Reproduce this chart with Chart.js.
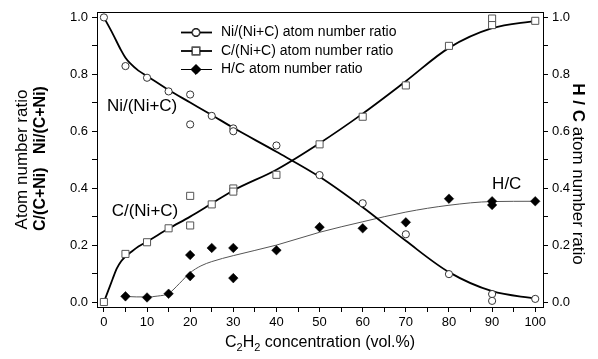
<!DOCTYPE html>
<html>
<head>
<meta charset="utf-8">
<script src="https://cdn.jsdelivr.net/npm/chart.js@4.4.0/dist/chart.umd.min.js"></script>
<style>
  html, body { margin: 0; padding: 0; background: #fff; }
  #wrap { width: 598px; height: 359px; position: relative; }
</style>
</head>
<body>
<div id="wrap"><canvas id="chart"></canvas></div>
<script>
var fontFamily = '"Liberation Sans", Arial, Helvetica, sans-serif'

// measured atom number ratios vs C2H2 concentration (vol.%)
var niConc = [0, 5, 10, 15, 20, 20, 25, 30, 30, 40, 50, 60, 70, 80, 90, 90, 100]
var niRatio = [1.0, 0.829, 0.788, 0.740, 0.729, 0.624, 0.654, 0.610, 0.600, 0.550, 0.446, 0.347, 0.238, 0.098, 0.028, 0.004, 0.011]

var cConc = [0, 5, 10, 15, 20, 20, 25, 30, 30, 40, 50, 60, 70, 80, 90, 90, 100]
var cRatio = [0.0, 0.169, 0.210, 0.259, 0.373, 0.269, 0.343, 0.399, 0.388, 0.447, 0.554, 0.651, 0.761, 0.900, 0.996, 0.973, 0.988]

var hcConc = [5, 10, 15, 20, 20, 25, 30, 30, 40, 50, 60, 70, 80, 90, 90, 100]
var hcRatio = [0.020, 0.016, 0.029, 0.165, 0.091, 0.190, 0.190, 0.084, 0.182, 0.263, 0.259, 0.280, 0.363, 0.354, 0.341, 0.354]

// fitted trend curves
var niFitX = [0, 2, 4, 5, 6, 8, 10, 15, 20, 25, 30, 40, 50, 60, 70, 80, 90, 100]
var niFitY = [1.0, 0.944, 0.884, 0.858, 0.840, 0.813, 0.794, 0.745, 0.701, 0.657, 0.612, 0.528, 0.440, 0.333, 0.215, 0.105, 0.038, 0.012]

var cFitX = [0, 1, 2, 3, 4, 5, 6, 8, 10, 15, 20, 25, 30, 40, 50, 60, 70, 80, 90, 100]
var cFitY = [0.0, 0.040, 0.080, 0.118, 0.143, 0.160, 0.172, 0.195, 0.212, 0.258, 0.300, 0.346, 0.392, 0.465, 0.558, 0.662, 0.776, 0.893, 0.962, 0.988]

var hcFitX = [5, 7.5, 10, 12.5, 15, 17.5, 20, 22.5, 25, 30, 40, 50, 60, 70, 80, 90, 100]
var hcFitY = [0.020, 0.018, 0.018, 0.021, 0.030, 0.065, 0.103, 0.127, 0.142, 0.163, 0.200, 0.245, 0.282, 0.316, 0.340, 0.353, 0.354]

var xTicks = [0, 10, 20, 30, 40, 50, 60, 70, 80, 90, 100]

function pts(xs, ys) {
    return xs.map(function (x, i) { return { x: x, y: ys[i] } })
}

var markerStyles = [
    { label: 'Ni/(Ni+C) atom number ratio', pointStyle: 'circle', radius: 3.6, bg: '#fff', border: '#333' },
    { label: 'C/(Ni+C) atom number ratio', pointStyle: 'rect', radius: 5, bg: '#fff', border: '#555' },
    { label: 'H/C atom number ratio', pointStyle: 'rectRot', radius: 4.8, bg: '#000', border: '#000' },
]

const data = {
    datasets: [
        {
            label: markerStyles[0].label, data: pts(niConc, niRatio), order: 0,
            pointStyle: 'circle', pointRadius: 3.6, pointBackgroundColor: '#fff',
            pointBorderColor: '#333', pointBorderWidth: 1, showLine: false,
        },
        {
            label: markerStyles[1].label, data: pts(cConc, cRatio), order: 0,
            pointStyle: 'rect', pointRadius: 5, pointBackgroundColor: '#fff',
            pointBorderColor: '#555', pointBorderWidth: 1, showLine: false,
        },
        {
            label: markerStyles[2].label, data: pts(hcConc, hcRatio), order: 0, yAxisID: 'y2',
            pointStyle: 'rectRot', pointRadius: 4.8, pointBackgroundColor: '#000',
            pointBorderColor: '#000', pointBorderWidth: 0.5, showLine: false,
        },
        {
            label: 'ni fit', data: pts(niFitX, niFitY), order: 1, showLine: true,
            borderColor: '#000', borderWidth: 1.8, pointRadius: 0, cubicInterpolationMode: 'monotone',
        },
        {
            label: 'c fit', data: pts(cFitX, cFitY), order: 1, showLine: true,
            borderColor: '#000', borderWidth: 1.8, pointRadius: 0, cubicInterpolationMode: 'monotone',
        },
        {
            label: 'hc fit', data: pts(hcFitX, hcFitY), order: 1, showLine: true, yAxisID: 'y2',
            borderColor: '#555', borderWidth: 1, pointRadius: 0, cubicInterpolationMode: 'monotone',
        },
    ]
}

// every other tick carries a label, the rest are minor ticks
function yLabel(v) {
    var n = Math.round(v * 10)
    return n % 2 === 0 ? (n / 10).toFixed(1) : ''
}

var axisGrid = {
    drawOnChartArea: false,
    drawTicks: true,
    tickLength: 5,
    tickColor: '#000',
    tickWidth: 1,
}

const decorations = {
    id: 'decorations',
    afterDraw(chart) {
        const ctx = chart.ctx
        const a = chart.chartArea
        const ys = chart.scales.y
        const xs = chart.scales.x
        ctx.save()

        // top frame line
        ctx.strokeStyle = '#000'
        ctx.lineWidth = 1
        ctx.beginPath()
        ctx.moveTo(a.left, Math.round(a.top) + 0.5)
        ctx.lineTo(a.right, Math.round(a.top) + 0.5)
        ctx.stroke()

        // legend
        var rows = [32.5, 51, 69.5]
        ctx.font = '14px ' + fontFamily
        ctx.textBaseline = 'middle'
        ctx.textAlign = 'left'
        markerStyles.forEach(function (m, i) {
            var y = rows[i]
            ctx.strokeStyle = '#000'
            ctx.lineWidth = i === 2 ? 1 : 1.8
            ctx.beginPath()
            ctx.moveTo(181, y)
            ctx.lineTo(212, y)
            ctx.stroke()
            Chart.helpers.drawPoint(ctx, {
                pointStyle: m.pointStyle, radius: m.radius, rotation: 0,
                borderWidth: 1,
            }, 196, y)
            ctx.fillStyle = m.bg
            ctx.fill()
            ctx.strokeStyle = m.border
            ctx.lineWidth = 1
            ctx.stroke()
            ctx.fillStyle = '#000'
            ctx.fillText(m.label, 221, y)
        })

        // curve labels
        ctx.font = '17px ' + fontFamily
        ctx.fillText('Ni/(Ni+C)', xs.getPixelForValue(0.7), ys.getPixelForValue(0.688))
        ctx.fillText('C/(Ni+C)', xs.getPixelForValue(1.8), ys.getPixelForValue(0.318))
        ctx.fillText('H/C', xs.getPixelForValue(90), ys.getPixelForValue(0.414))

        // x axis title with subscripts
        var big = '16px ' + fontFamily, small = '11px ' + fontFamily
        var parts = [['C', big, 0], ['2', small, 4], ['H', big, 0], ['2', small, 4], [' concentration (vol.%)', big, 0]]
        var total = 0
        parts.forEach(function (p) { ctx.font = p[1]; total += ctx.measureText(p[0]).width })
        var x = (a.left + a.right) / 2 - total / 2
        ctx.textBaseline = 'alphabetic'
        parts.forEach(function (p) {
            ctx.font = p[1]
            ctx.fillText(p[0], x, 347 + p[2])
            x += ctx.measureText(p[0]).width
        })

        // left axis titles
        var cy = (a.top + a.bottom) / 2
        ctx.save()
        ctx.translate(22, cy)
        ctx.rotate(-Math.PI / 2)
        ctx.textAlign = 'center'
        ctx.textBaseline = 'middle'
        ctx.font = '17px ' + fontFamily
        ctx.fillText('Atom number ratio', 0, 0)
        ctx.restore()

        ctx.save()
        ctx.translate(41, cy - 1)
        ctx.rotate(-Math.PI / 2)
        ctx.textAlign = 'center'
        ctx.textBaseline = 'middle'
        ctx.font = 'bold 16px ' + fontFamily
        ctx.fillText('C/(C+Ni)   Ni/(C+Ni)', 0, 0)
        ctx.restore()

        // right axis title, bold "H / C" followed by plain text
        ctx.save()
        ctx.translate(578, 174)
        ctx.rotate(Math.PI / 2)
        ctx.textBaseline = 'middle'
        ctx.textAlign = 'left'
        var boldPart = 'H / C', plainPart = ' atom number ratio'
        ctx.font = 'bold 17px ' + fontFamily
        var w1 = ctx.measureText(boldPart).width
        ctx.font = '17px ' + fontFamily
        var w2 = ctx.measureText(plainPart).width
        var sx = -(w1 + w2) / 2
        ctx.font = 'bold 17px ' + fontFamily
        ctx.fillText(boldPart, sx, 0)
        ctx.font = '17px ' + fontFamily
        ctx.fillText(plainPart, sx + w1, 0)
        ctx.restore()

        ctx.restore()
    }
}

const options = {
    animation: false,
    responsive: true,
    maintainAspectRatio: false,
    layout: {
        padding: { top: 12, left: 0, right: 0, bottom: 0 },
        autoPadding: false,
    },
    scales: {
        x: {
            type: 'linear',
            min: -1.6,
            max: 101.8,
            grid: axisGrid,
            border: { display: true, color: '#000', width: 1 },
            ticks: {
                stepSize: 5,
                includeBounds: false,
                maxRotation: 0,
                autoSkip: false,
                padding: 3,
                color: '#000',
                font: { size: 13, family: fontFamily },
                callback: function (v) { return xTicks.indexOf(Math.round(v)) >= 0 && Math.round(v) % 10 === 0 ? String(Math.round(v)) : '' },
            },
            afterFit: function (s) { s.height = 52 },
        },
        y: {
            position: 'left',
            min: -0.0175,
            max: 1.019,
            grid: axisGrid,
            border: { display: true, color: '#000', width: 1 },
            ticks: {
                stepSize: 0.1,
                includeBounds: false,
                autoSkip: false,
                padding: 4,
                color: '#000',
                font: { size: 13, family: fontFamily },
                callback: yLabel,
            },
            afterFit: function (s) { s.width = 97 },
        },
        y2: {
            position: 'right',
            min: -0.0175,
            max: 1.019,
            grid: axisGrid,
            border: { display: true, color: '#000', width: 1 },
            ticks: {
                stepSize: 0.1,
                includeBounds: false,
                autoSkip: false,
                padding: 4,
                color: '#000',
                font: { size: 13, family: fontFamily },
                callback: yLabel,
            },
            afterFit: function (s) { s.width = 55 },
        },
    },
    plugins: {
        legend: { display: false },
        tooltip: { enabled: false },
    },
}

const config = {
    type: 'scatter',
    data: data,
    options: options,
    plugins: [decorations],
}

const chart = new Chart(document.getElementById('chart'), config)
</script>
</body>
</html>
